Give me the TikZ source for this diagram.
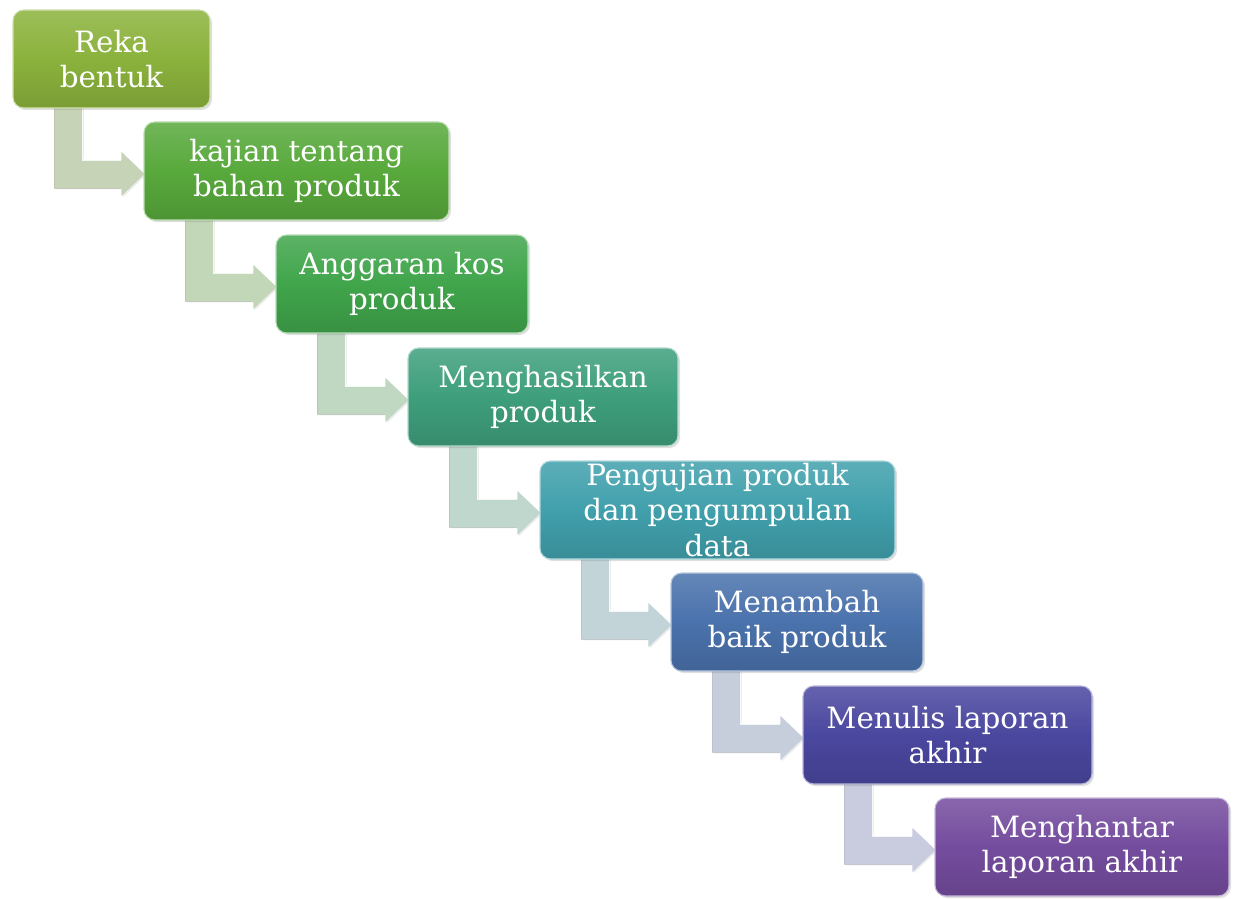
\documentclass[tikz,border=0pt]{standalone}
\usepackage{fontspec}
\setmainfont{DejaVu Serif}
\usetikzlibrary{calc,shadows,backgrounds}
\definecolor{c1}{HTML}{8BB23C}
\definecolor{c2}{HTML}{58A93C}
\definecolor{c3}{HTML}{40A54B}
\definecolor{c4}{HTML}{3E9F7C}
\definecolor{c5}{HTML}{40A0AC}
\definecolor{c6}{HTML}{4A72AC}
\definecolor{c7}{HTML}{4A479F}
\definecolor{c8}{HTML}{744C9E}
\definecolor{a1}{HTML}{C6D3B7}
\definecolor{a2}{HTML}{C2D6B8}
\definecolor{a3}{HTML}{C0D7C2}
\definecolor{a4}{HTML}{C0D7CD}
\definecolor{a5}{HTML}{C2D4D8}
\definecolor{a6}{HTML}{C6CEDC}
\definecolor{a7}{HTML}{C9CBDE}
\newcommand\bentarrow[3]{%
  \coordinate (#1A) at ($(#1.south west)+(42,-2)$);
  \coordinate (#1T) at ($(#2.west)+(1,3)$);
  \fill[#3, drop shadow={opacity=0.15,shadow xshift=1pt,shadow yshift=-1pt}]
    (#1A) -- ++(28,0) |- ($(#1T)+(-23,-14)$) -- ($(#1T)+(-23,-22)$) -- (#1T)
    -- ($(#1T)+(-23,22)$) -- ($(#1T)+(-23,14)$) -| (#1A) -- cycle;
  \draw[white, line width=1.2pt, opacity=0.8]
    ($(#1A)+(28,0)$) |- ($(#1T)+(-23,-14)$);
  \draw[#3!80!black, line width=0.6pt, opacity=0.5]
    ($(#1T)+(-23,14)$) -| (#1A);
}
\begin{document}
\begin{tikzpicture}[x=0.75pt,y=-0.75pt,
  box/.style={rounded corners=8pt, minimum height=98*0.75pt, text=white,
    align=center, font=\fontsize{22}{26.6}\selectfont, inner sep=0pt,
    draw=#1!40!white, line width=0.8pt,
    top color=#1!85!white, bottom color=#1!88!black, middle color=#1,
    drop shadow={opacity=0.25,shadow xshift=1.5pt,shadow yshift=-1.5pt}}]
\useasboundingbox (0,0) rectangle (1236,899);
\node[box=c1, minimum width=197*0.75pt] (b1) at (111.5,59) {Reka\\bentuk};
\node[box=c2, minimum width=305*0.75pt] (b2) at (296.5,171) {kajian tentang\\bahan produk};
\node[box=c3, minimum width=252*0.75pt] (b3) at (402,284) {Anggaran kos\\produk};
\node[box=c4, minimum width=270*0.75pt] (b4) at (543,397) {Menghasilkan\\produk};
\node[box=c5, minimum width=355*0.75pt] (b5) at (717.5,510) {Pengujian produk\\dan pengumpulan\\data};
\node[box=c6, minimum width=252*0.75pt] (b6) at (797,622) {Menambah\\baik produk};
\node[box=c7, minimum width=289*0.75pt] (b7) at (947.5,735) {Menulis laporan\\akhir};
\node[box=c8, minimum width=294*0.75pt] (b8) at (1082,847) {Menghantar\\laporan akhir};
\begin{scope}[on background layer]
\bentarrow{b1}{b2}{a1}
\bentarrow{b2}{b3}{a2}
\bentarrow{b3}{b4}{a3}
\bentarrow{b4}{b5}{a4}
\bentarrow{b5}{b6}{a5}
\bentarrow{b6}{b7}{a6}
\bentarrow{b7}{b8}{a7}
\end{scope}
\end{tikzpicture}
\end{document}
